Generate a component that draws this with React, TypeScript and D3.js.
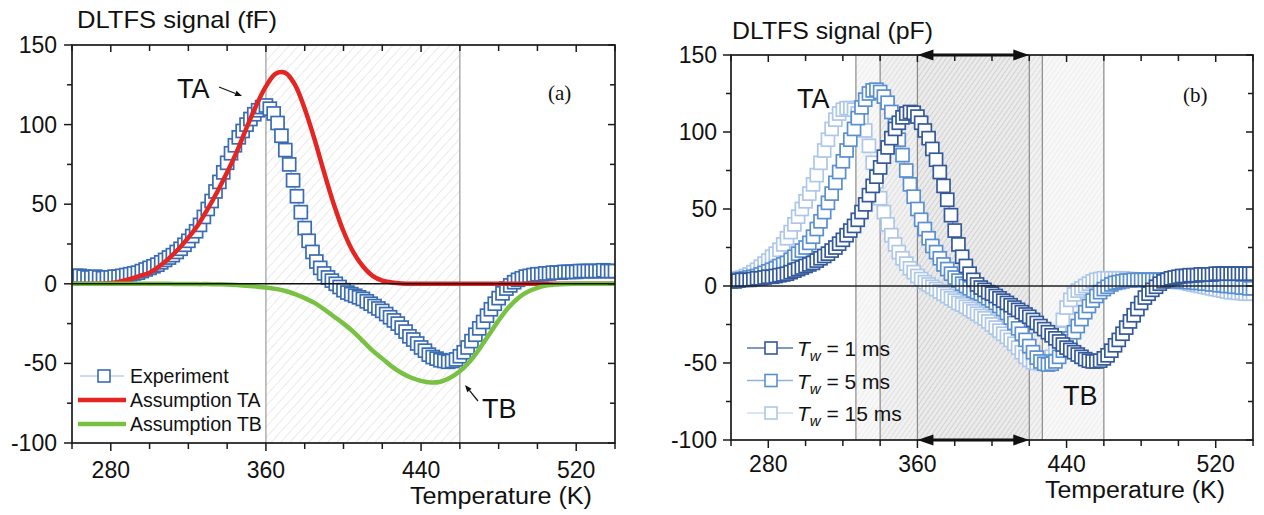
import React from "react";
import * as d3 from "d3";

// ---------- data ----------
const temperatureGrid = d3.range(260, 541, 2); // K, sampling grid of the measured spectra
const curveGrid = d3.range(260, 541, 5); // K, grid of the model curves

const experimentA = [
  4, 5, 5, 4.5, 4, 4, 4.5, 4, 3.5, 4,
  4, 4.5, 4.5, 5, 5.5, 6, 6.5, 7, 8, 9,
  10, 11, 12, 13.5, 15, 16.5, 18, 20, 22, 24.5,
  27, 30, 33, 37, 42, 47, 52, 58, 64, 70,
  76, 82, 87, 92, 96, 100, 103.5, 106.5, 109, 111,
  112, 110, 107, 101, 93, 84, 75, 65, 55, 45,
  35, 27, 20, 14, 10, 6.5, 4, 2, 0, -2,
  -4, -5.5, -6.5, -7.5, -8.5, -9.5, -11, -12.5, -14, -15.5,
  -17, -19, -21, -23, -25, -27.5, -30, -33, -35, -37.5,
  -40, -42, -44.5, -46, -47, -48, -48.5, -49, -48.5, -47.5,
  -45.5, -43, -40, -36, -32, -28, -24, -20, -16, -12.5,
  -9, -6, -3, -1, 1, 2.5, 3.5, 4.5, 5, 5.5,
  6, 6, 6.5, 6.5, 7, 7, 7, 7.5, 7.5, 7.5,
  7.5, 8, 8, 8, 8, 8, 8, 8.5, 8, 8,
  8,
];

const assumptionTA = [
  0, 0, 0, 0.2, 0.5, 1.5, 3, 5, 7, 11,
  16, 22, 29, 37, 47, 58, 70, 83, 98, 112,
  124, 132, 132.5, 125, 110, 91, 70, 50, 33, 20,
  11, 5, 2, 0.8, 0.2, 0, 0, 0, 0, 0,
  0, 0, 0, 0, 0, 0, 0, 0, 0, 0,
  0, 0, 0, 0, 0, 0, 0,
];

const assumptionTB = [
  0, 0, 0, 0, 0, 0, 0, 0, 0, 0,
  0, -0.1, -0.1, -0.2, -0.2, -0.3, -0.5, -0.8, -1.2, -1.7,
  -2.3, -3.2, -4.5, -6.5, -9, -12, -16, -20.5, -25, -30,
  -36, -42, -47, -52, -56, -59, -61, -62, -61.5, -59,
  -55, -49, -41, -32, -23, -15, -9, -5, -2.5, -1,
  -0.4, -0.1, 0, 0, 0, 0, 0,
];

const tw1 = [
  3, 3, 3.5, 4, 4, 4, 4.5, 5, 5, 5.5,
  6, 6, 6.5, 7, 7.5, 8, 9, 10, 11, 12,
  13, 14, 15, 16.5, 18, 19.5, 21, 23, 25, 27.5,
  30, 33, 36, 39, 43, 48, 53, 59, 65, 71,
  77, 84, 90, 96, 102, 106, 109.5, 112, 113, 112.5,
  110, 106, 101, 96, 89, 82, 74, 65, 56, 46,
  36, 27, 19, 13, 8, 4, 1, -1, -2.5, -4,
  -5, -6.5, -8, -9.5, -11, -12.5, -14, -15.5, -17, -18.5,
  -20, -22, -24, -26, -28, -30, -32, -34, -36, -38,
  -40, -41.5, -43, -44.5, -46, -47.5, -48.5, -49, -49, -48.5,
  -47, -45, -42, -38.5, -35, -31, -27, -23, -19, -15,
  -11, -7.5, -5, -2.5, -0.5, 1.5, 3, 4, 5, 5.5,
  6, 6.5, 6.5, 7, 7, 7, 7.5, 7.5, 7.5, 7.5,
  8, 8, 8, 8, 8, 8, 8, 8, 8, 8,
  8,
];

const tw5 = [
  3.5, 4, 4, 4.5, 5, 5.5, 6, 6.5, 7.5, 8.5,
  9.5, 10.5, 11.5, 13, 14, 15, 17, 19, 21, 23,
  25, 28, 32, 37, 42, 48, 54, 60, 67, 74,
  81, 88, 95, 102, 109, 116, 121, 125, 127, 127.5,
  126, 123, 119, 113, 104, 95, 85, 75, 66, 58,
  50, 43, 37, 31, 26, 22, 18, 14, 11, 8,
  5.5, 3.5, 1.5, 0, -1.5, -3, -4, -5, -6.5, -8,
  -9.5, -11, -13, -15, -17.5, -20.5, -24, -27.5, -31, -35,
  -39, -43, -46.5, -49, -50.5, -51, -50.5, -49, -46, -42,
  -38, -34, -30, -26, -21.5, -17, -13, -9.5, -6.5, -4,
  -2, -0.5, 1, 2, 2.5, 3, 3.5, 3.5, 4, 4,
  4, 4, 4, 4, 4, 4, 4, 3.5, 3.5, 3.5,
  3, 3, 3, 2.5, 2.5, 2, 2, 1.5, 1.5, 1,
  1, 0.5, 0.5, 0, 0, -0.5, -0.5, -1, -1, -1.5,
  -1.5,
];

const tw15 = [
  4, 4.5, 5, 5.5, 6.5, 7.5, 9, 10.5, 12.5, 14.5,
  16.5, 19, 21, 23.5, 27, 31, 35, 40, 45, 50,
  55, 60, 66, 72, 80, 88, 95, 102, 108, 112,
  114.5, 115.5, 115.5, 114.5, 112, 108, 101, 91, 80, 68,
  57, 48, 40, 33, 27, 22, 18, 14.5, 11.5, 9,
  6.5, 4.5, 2.5, 1, -0.5, -2, -3.5, -5, -6.5, -8,
  -9.5, -11, -12, -13.5, -15, -16.5, -18, -19.5, -21, -23,
  -25, -27, -29, -31, -33, -35, -37.5, -40, -43, -46,
  -48, -49.5, -50, -50, -49.5, -48.5, -46, -40, -31, -22,
  -14, -9, -5.5, -3, -1.5, 0, 1.5, 3, 4, 4.5,
  5, 5, 5, 5, 5, 5, 4.5, 4.5, 4, 4,
  3.5, 3.5, 3, 3, 3, 3, 3, 3, 3, 3,
  2.5, 2.5, 2, 1.5, 1, 0.5, 0, -0.5, -1, -1.5,
  -2, -2.5, -3, -3.5, -4, -4, -4.5, -4.5, -5, -5,
  -5,
];

const xTickLabels = [280, 360, 440, 520];
const yTickLabels = [-100, -50, 0, 50, 100, 150];
const xDomain = [260, 540];
const yDomain = [-100, 150];
const legendA = ["Experiment", "Assumption TA", "Assumption TB"];
const legendB = ["1 ms", "5 ms", "15 ms"];
const regionsA = [[360, 460]];
const regionsB = [[327, 420], [340, 427], [360, 460]];
const boundaryLinesA = [360, 460];
const boundaryLinesB = [327, 340, 360, 420, 427, 460];
const arrowSpanB = [360, 420];

// ---------- styles ----------
const SANS = "'Liberation Sans', Arial, Helvetica, sans-serif";
const SERIF = "'Liberation Serif', 'Times New Roman', serif";
const C_EXP = "#3a6cb4";
const C_RED = "#e52521";
const C_GREEN = "#79c142";
const C_TW = ["#34599b", "#5a8fd0", "#adc7e8"];
const C_TW_LINE = ["#5577b0", "#8fb2de", "#cddcf0"];
const SQ = 13;

const boxA = { left: 72, right: 615, top: 45, bottom: 443 };
const boxB = { left: 731, right: 1253, top: 55, bottom: 440 };

const xA = d3.scaleLinear().domain(xDomain).range([boxA.left, boxA.right]);
const yA = d3.scaleLinear().domain(yDomain).range([boxA.bottom, boxA.top]);
const xB = d3.scaleLinear().domain(xDomain).range([boxB.left, boxB.right]);
const yB = d3.scaleLinear().domain(yDomain).range([boxB.bottom, boxB.top]);

function Axes({ x, y, box, labelGap, xLabelDy }: any) {
  const xt = d3.range(xDomain[0], xDomain[1] + 1, 20);
  const yt = d3.range(yDomain[0], yDomain[1] + 1, 25);
  const stroke = "#1a1a1a";
  return (
    <g>
      <rect x={box.left} y={box.top} width={box.right - box.left} height={box.bottom - box.top}
        fill="none" stroke={stroke} strokeWidth={1.7} />
      {xt.map((t) => {
        const major = xTickLabels.includes(t);
        const px = x(t);
        return (
          <g key={"xt" + t}>
            <line x1={px} x2={px} y1={box.bottom} y2={box.bottom + (major ? 8 : 6)} stroke={stroke} strokeWidth={1.5} />
            <line x1={px} x2={px} y1={box.top} y2={box.top + (major ? 7 : 6)} stroke={stroke} strokeWidth={1.5} />
          </g>
        );
      })}
      {yt.map((v) => {
        const major = yTickLabels.includes(v);
        const py = y(v);
        return (
          <g key={"yt" + v}>
            <line x1={box.left - (major ? 8 : 5)} x2={box.left} y1={py} y2={py} stroke={stroke} strokeWidth={1.5} />
            <line x1={box.right - (major ? 7 : 5)} x2={box.right} y1={py} y2={py} stroke={stroke} strokeWidth={1.5} />
          </g>
        );
      })}
      {xTickLabels.map((t) => (
        <text key={"xl" + t} x={x(t)} y={box.bottom + xLabelDy} textAnchor="middle"
          fontFamily={SANS} fontSize={23} fill="#111">{t}</text>
      ))}
      {yTickLabels.map((v) => (
        <text key={"yl" + v} x={box.left - labelGap} y={y(v) + 8} textAnchor="end"
          fontFamily={SANS} fontSize={23} fill="#111">{v}</text>
      ))}
    </g>
  );
}

function Squares({ data, x, y, color, lineColor }: any) {
  const pts = temperatureGrid.map((t, i) => [t, data[i]]).filter((p) => p[1] !== undefined);
  const line = d3.line<any>().x((d) => x(d[0])).y((d) => y(d[1]));
  return (
    <g>
      <path d={line(pts) || ""} fill="none" stroke={lineColor} strokeWidth={1} />
      {pts.map((p, i) => (
        <rect key={i} x={x(p[0]) - SQ / 2} y={y(p[1]) - SQ / 2} width={SQ} height={SQ}
          fill="#fff" stroke={color} strokeWidth={1.7} />
      ))}
    </g>
  );
}

function Arrow({ x1, y1, x2, y2, head = 7, width = 1.2 }: any) {
  const ang = Math.atan2(y2 - y1, x2 - x1);
  const hx = x2 - head * Math.cos(ang);
  const hy = y2 - head * Math.sin(ang);
  const w = head * 0.4;
  const px = -Math.sin(ang) * w;
  const py = Math.cos(ang) * w;
  return (
    <g>
      <line x1={x1} y1={y1} x2={hx} y2={hy} stroke="#111" strokeWidth={width} />
      <path d={`M${x2},${y2}L${hx + px},${hy + py}L${hx - px},${hy - py}Z`} fill="#111" />
    </g>
  );
}

export default function App() {
  const curveLine = (x: any, y: any) =>
    d3.line<any>().x((d) => x(d[0])).y((d) => y(d[1])).curve(d3.curveCatmullRom.alpha(0.5));
  const taPts = curveGrid.map((t, i) => [t, assumptionTA[i]]);
  const tbPts = curveGrid.map((t, i) => [t, assumptionTB[i]]);
  const twSeries = [tw1, tw5, tw15];

  return (
    <svg width={1264} height={515} viewBox="0 0 1264 515"
      style={{ position: "absolute", left: 0, top: 0, background: "#fff" }}>
      <defs>
        <clipPath id="clipA">
          <rect x={boxA.left} y={boxA.top} width={boxA.right - boxA.left} height={boxA.bottom - boxA.top} />
        </clipPath>
        <clipPath id="clipB">
          <rect x={boxB.left} y={boxB.top} width={boxB.right - boxB.left} height={boxB.bottom - boxB.top} />
        </clipPath>
        <pattern id="hatchA" patternUnits="userSpaceOnUse" width={7} height={7} patternTransform="rotate(42)">
          <line x1={0} y1={0} x2={0} y2={7} stroke="#d6d6d6" strokeWidth={1} />
        </pattern>
        <pattern id="hatchB" patternUnits="userSpaceOnUse" width={4} height={4} patternTransform="rotate(35)">
          <line x1={0} y1={0} x2={0} y2={4} stroke="#9a9a9a" strokeWidth={0.7} />
        </pattern>
      </defs>
      <rect x={0} y={0} width={1264} height={515} fill="#fff" />

      {/* ---------------- Panel (a) ---------------- */}
      <g clipPath="url(#clipA)">
        {regionsA.map((r, i) => (
          <rect key={i} x={xA(r[0])} y={boxA.top} width={xA(r[1]) - xA(r[0])} height={boxA.bottom - boxA.top}
            fill="url(#hatchA)" />
        ))}
        {boundaryLinesA.map((t) => (
          <line key={t} x1={xA(t)} x2={xA(t)} y1={boxA.top} y2={boxA.bottom} stroke="#9a9a9a" strokeWidth={1.2} />
        ))}
        <Squares data={experimentA} x={xA} y={yA} color={C_EXP} lineColor="#7fa3d6" />
        <path d={curveLine(xA, yA)(taPts) || ""} fill="none" stroke={C_RED} strokeWidth={4.5} />
        <path d={curveLine(xA, yA)(tbPts) || ""} fill="none" stroke={C_GREEN} strokeWidth={4.5} />
        <line x1={boxA.left} x2={boxA.right} y1={yA(0)} y2={yA(0)} stroke="#111" strokeWidth={1.6} />
      </g>
      <Axes x={xA} y={yA} box={boxA} labelGap={15} xLabelDy={35} />
      <text x={77} y={28} fontFamily={SANS} fontSize={24} textLength={200} lengthAdjust="spacingAndGlyphs" fill="#111">DLTFS signal (fF)</text>
      <text x={501} y={504} textAnchor="middle" fontFamily={SANS} fontSize={23} textLength={182} lengthAdjust="spacingAndGlyphs" fill="#111">Temperature (K)</text>
      <text x={548} y={100} fontFamily={SERIF} fontSize={21} fill="#111">(a)</text>
      <text x={177} y={98} fontFamily={SANS} fontSize={27} fill="#111">TA</text>
      <Arrow x1={219} y1={87} x2={242} y2={96} />
      <text x={482} y={418} fontFamily={SANS} fontSize={27} fill="#111">TB</text>
      <Arrow x1={478} y1={401} x2={465} y2={385} />
      {/* legend a */}
      <g>
        <line x1={80} x2={124} y1={376} y2={376} stroke="#9db6dc" strokeWidth={1.2} />
        <rect x={104 - 6} y={376 - 6} width={12} height={12} fill="#fff" stroke={C_EXP} strokeWidth={1.6} />
        <line x1={78} x2={126} y1={400} y2={400} stroke={C_RED} strokeWidth={4.5} />
        <line x1={78} x2={126} y1={424} y2={424} stroke={C_GREEN} strokeWidth={4.5} />
        {legendA.map((s, i) => (
          <text key={s} x={130} y={383 + i * 24} fontFamily={SANS} fontSize={19.5} fill="#111">{s}</text>
        ))}
      </g>

      {/* ---------------- Panel (b) ---------------- */}
      <g clipPath="url(#clipB)">
        {regionsB.map((r, i) => (
          <g key={i}>
            <rect x={xB(r[0])} y={boxB.top} width={xB(r[1]) - xB(r[0])} height={boxB.bottom - boxB.top}
              fill="rgb(160,160,160)" fillOpacity={0.08} />
            <rect x={xB(r[0])} y={boxB.top} width={xB(r[1]) - xB(r[0])} height={boxB.bottom - boxB.top}
              fill="url(#hatchB)" opacity={0.33} />
          </g>
        ))}
        {boundaryLinesB.map((t) => (
          <line key={t} x1={xB(t)} x2={xB(t)} y1={boxB.top} y2={boxB.bottom} stroke="#8a8a8a" strokeWidth={1.2} />
        ))}
        {[2, 1, 0].map((k) => (
          <Squares key={k} data={twSeries[k]} x={xB} y={yB} color={C_TW[k]} lineColor={C_TW_LINE[k]} />
        ))}
        <line x1={boxB.left} x2={boxB.right} y1={yB(0)} y2={yB(0)} stroke="#222" strokeWidth={1.6} />
      </g>
      <Axes x={xB} y={yB} box={boxB} labelGap={14} xLabelDy={32} />
      {[boxB.top, boxB.bottom].map((yy) => (
        <g key={yy}>
          <line x1={xB(arrowSpanB[0]) + 12} x2={xB(arrowSpanB[1]) - 12} y1={yy} y2={yy} stroke="#111" strokeWidth={3.2} />
          <path d={`M${xB(arrowSpanB[0])},${yy}L${xB(arrowSpanB[0]) + 16},${yy - 5.5}L${xB(arrowSpanB[0]) + 16},${yy + 5.5}Z`} fill="#111" />
          <path d={`M${xB(arrowSpanB[1])},${yy}L${xB(arrowSpanB[1]) - 16},${yy - 5.5}L${xB(arrowSpanB[1]) - 16},${yy + 5.5}Z`} fill="#111" />
        </g>
      ))}
      <text x={732} y={39} fontFamily={SANS} fontSize={24} textLength={201} lengthAdjust="spacingAndGlyphs" fill="#111">DLTFS signal (pF)</text>
      <text x={1135} y={498} textAnchor="middle" fontFamily={SANS} fontSize={23} textLength={180} lengthAdjust="spacingAndGlyphs" fill="#111">Temperature (K)</text>
      <text x={1183} y={102} fontFamily={SERIF} fontSize={21} fill="#111">(b)</text>
      <text x={797} y={108} fontFamily={SANS} fontSize={27} fill="#111">TA</text>
      <text x={1063} y={405} fontFamily={SANS} fontSize={27} fill="#111">TB</text>
      {/* legend b */}
      {legendB.map((s, i) => {
        const yy = 348 + i * 32.5;
        return (
          <g key={s}>
            <line x1={747} x2={793} y1={yy} y2={yy} stroke={C_TW_LINE[i]} strokeWidth={1.5} />
            <rect x={771 - 6} y={yy - 6} width={12} height={12} fill="#fff" stroke={C_TW[i]} strokeWidth={1.6} />
            <text x={797} y={yy + 8} fontFamily={SANS} fontSize={21} fill="#111">
              <tspan fontStyle="italic">T</tspan>
              <tspan fontStyle="italic" fontSize={15} dy={5}>w</tspan>
              <tspan dy={-5}>{" = " + s}</tspan>
            </text>
          </g>
        );
      })}
    </svg>
  );
}
